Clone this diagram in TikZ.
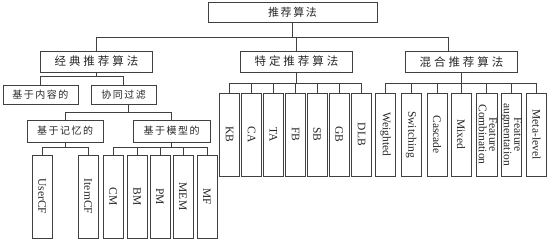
\documentclass[tikz,border=0pt]{standalone}
\usepackage{fontspec}
\usepackage{graphicx}
\setmainfont{Liberation Serif}
\newfontfamily\cjk[LetterSpace=15]{Noto Sans CJK SC}
\newfontfamily\cjkwide[LetterSpace=26]{Noto Sans CJK SC}
\newcommand{\twolines}[2]{\begin{tabular}{@{}c@{}}#1\\#2\end{tabular}}

\begin{document}
\begin{tikzpicture}[x=1pt, y=-1pt,
					box/.style={draw=black!75, line width=0.8pt, inner sep=0pt, minimum height=20pt, text=black!85},
					cat/.style={box, minimum width=112pt, minimum height=21pt, font=\cjkwide\fontsize{11.5}{12}\selectfont},
					sub/.style={box, minimum height=20pt, font=\cjk\fontsize{10}{12}\selectfont},
					leaf/.style={box, minimum width=20pt, minimum height=83pt, font=\fontsize{11.5}{9}\selectfont},
					link/.style={draw=black!75, line width=0.8pt}]
					\useasboundingbox (0,0) rectangle (548,240);
					% Wurzel und Kategorien
					\node[box, minimum width=169pt, font=\cjk\fontsize{11}{12}\selectfont] (tj) at (292.5,12) {推荐算法};
					\node[cat] (jd) at (96.5,61.5) {经典推荐算法};
					\node[cat] (td) at (296.5,61.5) {特定推荐算法};
					\node[cat] (hh) at (461.5,62) {混合推荐算法};
					% klassische Verfahren
					\node[sub, minimum width=75pt, minimum height=19pt] (nr) at (40.5,94.5) {基于内容的};
					\node[sub, minimum width=65pt, minimum height=19pt] (xt) at (123.5,94.5) {协同过滤};
					\node[sub, minimum width=76pt, minimum height=22pt] (jy) at (65,131) {基于记忆的};
					\node[sub, minimum width=77pt, minimum height=22pt] (mx) at (171.5,131) {基于模型的};
					% Blaetter unten
					\foreach \n/\x/\t in {ucf/42/UserCF, icf/88/ItemCF, cm/113/CM, bm/137/BM, pm/160/PM, mem/183/MEM, mf/207/MF}
						\node[leaf] (\n) at (\x,196.5) {\rotatebox{-90}{\t}};
					% Blaetter oben
					\foreach \n/\x/\t in {kb/229.5/KB, ca/251.5/CA, ta/273.5/TA, fb/295.5/FB, sb/317/SB, gb/339/GB, dlb/361.5/DLB,
						wt/385.5/Weighted, sw/411/Switching, cc/437/Cascade, mi/461/Mixed,
						fc/486.5/{\twolines{Feature}{Combination}}, fa/511.5/{\twolines{Feature}{augmentation}}, ml/536.5/Meta-level}
						\node[leaf] (\n) at (\x,134.5) {\rotatebox{-90}{\t}};
					% Verbindungen
					\coordinate (bus0) at (0,37);
					\coordinate (bus1) at (0,76);
					\coordinate (bus2) at (0,112);
					\coordinate (bus3) at (0,147);
					\coordinate (bus4) at (0,83);
					\coordinate (hhin) at ([xshift=-13.5pt]hh.north);
					\coordinate (xtout) at ([xshift=4.5pt]xt.south);
					\foreach \c in {jd.north, td.north, hhin}
						\draw[link] (tj.south) |- (bus0 -| \c) -- (\c);
					\foreach \c in {nr, xt}
						\draw[link] (jd.south) |- (bus1 -| \c.north) -- (\c.north);
					\foreach \c in {jy, mx}
						\draw[link] (xtout) |- (bus2 -| \c.north) -- (\c.north);
					\foreach \c in {ucf, icf}
						\draw[link] (jy.south) |- (bus3 -| \c.north) -- (\c.north);
					\foreach \c in {cm, bm, pm, mem, mf}
						\draw[link] (mx.south) |- (bus3 -| \c.north) -- (\c.north);
					\foreach \c in {kb, ca, ta, fb, sb, gb, dlb}
						\draw[link] (td.south) |- (bus4 -| \c.north) -- (\c.north);
					\foreach \c in {wt, sw, cc, mi, fc, fa, ml}
						\draw[link] (hh.south) |- (bus4 -| \c.north) -- (\c.north);
				\end{tikzpicture}
\end{document}
